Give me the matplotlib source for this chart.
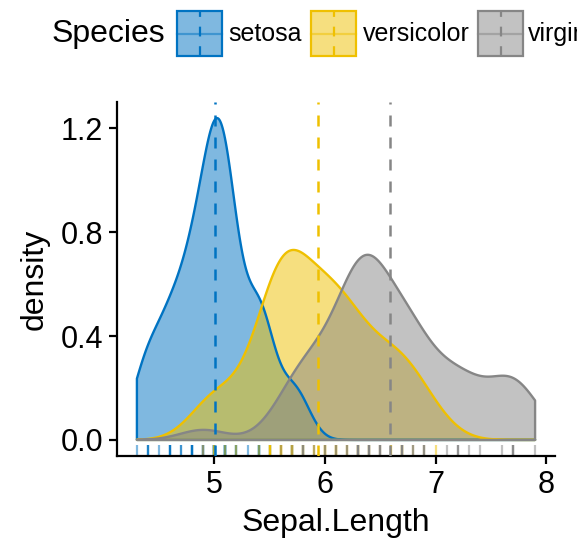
import numpy as np
import matplotlib.pyplot as plt
from matplotlib.patches import Rectangle
from matplotlib.lines import Line2D

plt.rcParams['font.family'] = ['Liberation Sans', 'DejaVu Sans']

# iris Sepal.Length by species
species = ["setosa", "versicolor", "virginica"]
setosa = [5.1, 4.9, 4.7, 4.6, 5.0, 5.4, 4.6, 5.0, 4.4, 4.9, 5.4, 4.8, 4.8, 4.3, 5.8,
          5.7, 5.4, 5.1, 5.7, 5.1, 5.4, 5.1, 4.6, 5.1, 4.8, 5.0, 5.0, 5.2, 5.2, 4.7,
          4.8, 5.4, 5.2, 5.5, 4.9, 5.0, 5.5, 4.9, 4.4, 5.1, 5.0, 4.5, 4.4, 5.0, 5.1,
          4.8, 5.1, 4.6, 5.3, 5.0]
versicolor = [7.0, 6.4, 6.9, 5.5, 6.5, 5.7, 6.3, 4.9, 6.6, 5.2, 5.0, 5.9, 6.0, 6.1, 5.6,
              6.7, 5.6, 5.8, 6.2, 5.6, 5.9, 6.1, 6.3, 6.1, 6.4, 6.6, 6.8, 6.7, 6.0, 5.7,
              5.5, 5.5, 5.8, 6.0, 5.4, 6.0, 6.7, 6.3, 5.6, 5.5, 5.5, 6.1, 5.8, 5.0, 5.6,
              5.7, 5.7, 6.2, 5.1, 5.7]
virginica = [6.3, 5.8, 7.1, 6.3, 6.5, 7.6, 4.9, 7.3, 6.7, 7.2, 6.5, 6.4, 6.8, 5.7, 5.8,
             6.4, 6.5, 7.7, 7.7, 6.0, 6.9, 5.6, 7.7, 6.3, 6.7, 7.2, 6.2, 6.1, 6.4, 7.2,
             7.4, 7.9, 6.4, 6.3, 6.1, 7.7, 6.3, 6.4, 6.0, 6.9, 6.7, 6.9, 5.8, 6.8, 6.7,
             6.7, 6.3, 6.5, 6.2, 5.9]
palette = ["#0073C2", "#EFC000", "#868686"]
xticks = [5, 6, 7, 8]
yticks = [0.0, 0.4, 0.8, 1.2]


def bw_nrd0(x):
    x = np.asarray(x)
    sd = x.std(ddof=1)
    iqr = np.subtract(*np.percentile(x, [75, 25]))
    lo = min(sd, iqr / 1.34)
    return 0.9 * lo * len(x) ** -0.2


def kde(x, grid):
    x = np.asarray(x)
    bw = bw_nrd0(x)
    z = (grid[:, None] - x[None, :]) / bw
    return np.exp(-0.5 * z ** 2).sum(axis=1) / (len(x) * bw * np.sqrt(2 * np.pi))


groups = [setosa, versicolor, virginica]
allx = np.concatenate(groups)
grid = np.linspace(allx.min(), allx.max(), 512)

fig = plt.figure(figsize=(5.77, 5.40), dpi=100)
W, H = 577, 540
ax = fig.add_axes([117 / W, (H - 456) / H, (555 - 117) / W, (456 - 102) / H])

dens = [kde(g, grid) for g in groups]
for d, c in zip(dens, palette):
    px = np.concatenate([[grid[0]], grid, [grid[-1]]])
    py = np.concatenate([[0], d, [0]])
    ax.fill(px, py, facecolor=c, alpha=0.5, edgecolor='none', zorder=2)
    ax.fill(px, py, facecolor='none', edgecolor=c, lw=1.7, zorder=3,
            joinstyle='round')

for g, c in zip(groups, palette):
    ax.axvline(np.mean(g), color=c, lw=1.8, dashes=(4.4, 4.4), zorder=4)

# rug along the bottom
xmin = allx.min() - 0.05 * np.ptp(allx)
xmax = allx.max() + 0.05 * np.ptp(allx)
ymax = max(d.max() for d in dens)
ylo, yhi = -0.05 * ymax, ymax * 1.05
for g, c in zip(groups, palette):
    for v in g:
        ax.plot([v, v], [0, 0.03], transform=ax.get_xaxis_transform(),
                color=c, alpha=0.5, lw=1.6, solid_capstyle='butt', zorder=2)

ax.set_xlim(xmin, xmax)
ax.set_ylim(ylo, yhi)
ax.set_xticks(xticks)
ax.set_yticks(yticks)
ax.set_yticklabels([f"{t:.1f}" for t in yticks])
for s in ['top', 'right']:
    ax.spines[s].set_visible(False)
for s in ['left', 'bottom']:
    ax.spines[s].set_linewidth(1.6)
ax.tick_params(axis='both', length=6, width=1.6, labelsize=22, pad=4, colors='black')
ax.set_xlabel("Sepal.Length", fontsize=23, labelpad=6)
ax.set_ylabel("density", fontsize=23, labelpad=8)

# legend across the top
fig.text(52 / W, 1 - 34 / H, "Species", fontsize=23, va='center', ha='left')
key_x = [177, 311, 478]
lab_x = [228, 363, 528]
for kx, lx, c, name in zip(key_x, lab_x, palette, species):
    x0, y0, w, h = kx / W, 1 - 56 / H, 45 / W, 45 / H
    fig.patches.append(Rectangle((x0, y0), w, h, transform=fig.transFigure,
                                 facecolor=c, alpha=0.5, edgecolor='none'))
    fig.patches.append(Rectangle((x0, y0), w, h, transform=fig.transFigure,
                                 facecolor='none', edgecolor=c, lw=1.6))
    fig.lines.append(Line2D([x0, x0 + w], [y0 + h / 2] * 2, transform=fig.transFigure,
                            color=c, alpha=0.5, lw=1.6))
    fig.lines.append(Line2D([x0 + w / 2] * 2, [y0, y0 + h], transform=fig.transFigure,
                            color=c, lw=1.6, dashes=(4.4, 4.4)))
    fig.text(lx / W, 1 - 34 / H, name, fontsize=18, va='center', ha='left')

fig.savefig("out.png", dpi=100)
